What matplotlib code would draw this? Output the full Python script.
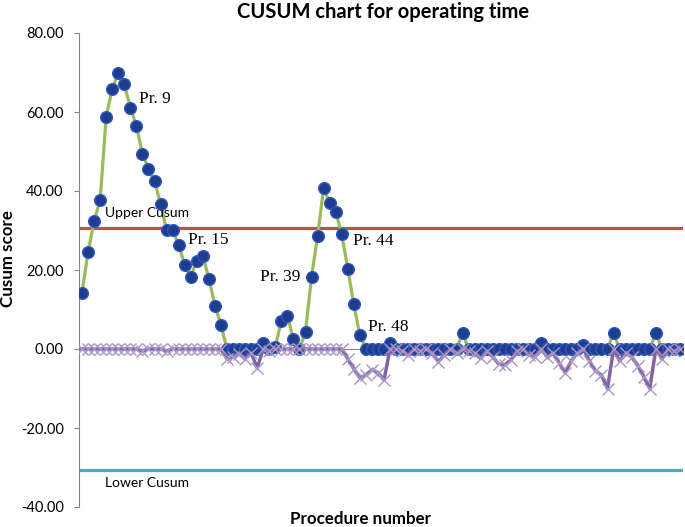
import numpy as np
import matplotlib
matplotlib.use("Agg")
import matplotlib.pyplot as plt

# ---------------- data ----------------
procedure = np.arange(1, 101)

upper_cusum = [
    14.3, 24.5, 32.4, 37.7, 58.8, 65.8, 70.0, 67.0, 61.1, 56.5,
    49.4, 45.6, 42.5, 36.8, 30.1, 30.1, 26.3, 21.3, 18.3, 22.4,
    23.6, 17.8, 11.0, 6.1, 0.0, 0.0, 0.0, 0.0, 0.0, 0.0,
    1.6, 0.0, 0.5, 7.2, 8.4, 2.5, 0.0, 4.4, 18.3, 28.6,
    40.7, 37.0, 34.8, 29.0, 20.3, 11.3, 3.5, 0.0, 0.0, 0.0,
    0.0, 1.5, 0.0, 0.0, 0.0, 0.0, 0.0, 0.0, 0.0, 0.0,
    0.0, 0.0, 0.0, 4.1, 0.0, 0.0, 0.0, 0.0, 0.0, 0.0,
    0.0, 0.0, 0.0, 0.0, 0.0, 0.0, 1.5, 0.0, 0.0, 0.0,
    0.0, 0.0, 0.0, 1.0, 0.0, 0.0, 0.0, 0.0, 4.1, 0.0,
    0.0, 0.0, 0.0, 0.0, 0.0, 4.1, 0.0, 0.0, 0.0, 0.0,
]

lower_cusum = [
    0.0, 0.0, 0.0, 0.0, 0.0, 0.0, 0.0, 0.0, 0.0, 0.0,
    -0.5, 0.0, 0.0, 0.0, -0.5, 0.0, 0.0, 0.0, 0.0, 0.0,
    0.0, 0.0, 0.0, 0.0, -2.5, -2.0, -1.2, -2.5, -1.0, -4.8,
    0.0, -0.5, 0.0, 0.0, 0.0, 0.0, 0.0, 0.0, 0.0, 0.0,
    0.0, 0.0, 0.0, 0.0, -2.5, -5.0, -7.3, -6.6, -5.3, -6.0,
    -7.8, 0.0, 0.0, -0.5, -1.5, 0.0, -0.5, 0.0, -1.0, -3.2,
    -1.5, 0.0, -1.1, 0.0, -0.5, -1.0, -2.4, -0.5, -2.0, -3.8,
    -4.0, -2.8, -0.5, 0.0, -1.5, -1.9, 0.0, -2.0, -1.1, -3.5,
    -6.0, -3.0, -1.0, 0.0, -3.0, -5.5, -6.6, -10.0, 0.0, -3.0,
    -1.0, -2.0, -4.2, -7.0, -10.0, 0.0, -2.5, 0.0, -0.5, 0.0,
]

upper_limit = 30.6
lower_limit = -30.6

point_labels = ["Pr. 9", "Pr. 15", "Pr. 39", "Pr. 44", "Pr. 48"]
label_points = [9, 17, 39, 44, 47]

y_ticks = [-40, -20, 0, 20, 40, 60, 80]

# ---------------- figure ----------------
W, H = 685, 527
fig = plt.figure(figsize=(W / 100, H / 100), dpi=100)
fig.patch.set_facecolor("white")
ax = fig.add_axes([79 / W, (H - 507) / H, 604 / W, 474 / H])

sans = ["Lato", "DejaVu Sans"]
serif = ["Liberation Serif", "DejaVu Serif"]

# control limits
ax.axhline(upper_limit, color="#C0504D", lw=2.3, zorder=1)
ax.axhline(lower_limit, color="#4BACC6", lw=2.3, zorder=1)

# upper cusum
ax.plot(procedure, upper_cusum, color="#9BBB59", lw=2.3, zorder=2)
ax.plot(procedure, upper_cusum, ls="none", marker="o", ms=8.4,
        mfc="#1F3D8F", mec="#2E55C0", mew=1.0, zorder=3)

# lower cusum
ax.plot(procedure, lower_cusum, color="#8064A2", lw=2.5, marker="x",
        ms=8, mec="#A896C6", mew=1.0, zorder=4)

ax.set_xlim(0.5, 100.5)
ax.set_ylim(-40, 80)
ax.set_yticks(y_ticks)
ax.set_yticklabels([f"{v:.2f}" for v in y_ticks], fontfamily=sans, fontsize=10.5)
ax.set_xticks([])

for s in ["top", "right"]:
    ax.spines[s].set_visible(False)
ax.spines["bottom"].set_position(("data", 0))
ax.spines["bottom"].set_color("#868686")
ax.spines["left"].set_color("#868686")
ax.tick_params(axis="y", direction="out", length=3.5, color="#868686", pad=7.5)

# point annotations
offsets = [(6, 6), (7, 4), (-8, 0), (8, -5), (6, 6)]
aligns = [("left", "center"), ("left", "center"), ("right", "center"),
          ("left", "center"), ("left", "center")]
for lab, p, off, (ha, va) in zip(point_labels, label_points, offsets, aligns):
    ax.annotate(lab, xy=(p, upper_cusum[p - 1]), xytext=off,
                textcoords="offset points", ha=ha, va=va,
                fontfamily=serif, fontsize=12.5, color="black", zorder=6)

ax.text(4.8, upper_limit + 3.9, "Upper Cusum", fontfamily=sans, fontsize=10,
        ha="left", va="center")
ax.text(4.8, lower_limit - 3.4, "Lower Cusum", fontfamily=sans, fontsize=10,
        ha="left", va="center")

fig.text(383 / W, 1 - 12 / H, "CUSUM chart for operating time",
         fontfamily=sans, fontweight="bold", fontsize=14.5, ha="center", va="center")
fig.text(361 / W, 1 - 519 / H, "Procedure number",
         fontfamily=sans, fontweight="bold", fontsize=12.2, ha="center", va="center")
fig.text(8 / W, 1 - 259 / H, "Cusum score", rotation=90,
         fontfamily=sans, fontweight="bold", fontsize=12.2, ha="center", va="center")

fig.savefig("out.png", dpi=100)
